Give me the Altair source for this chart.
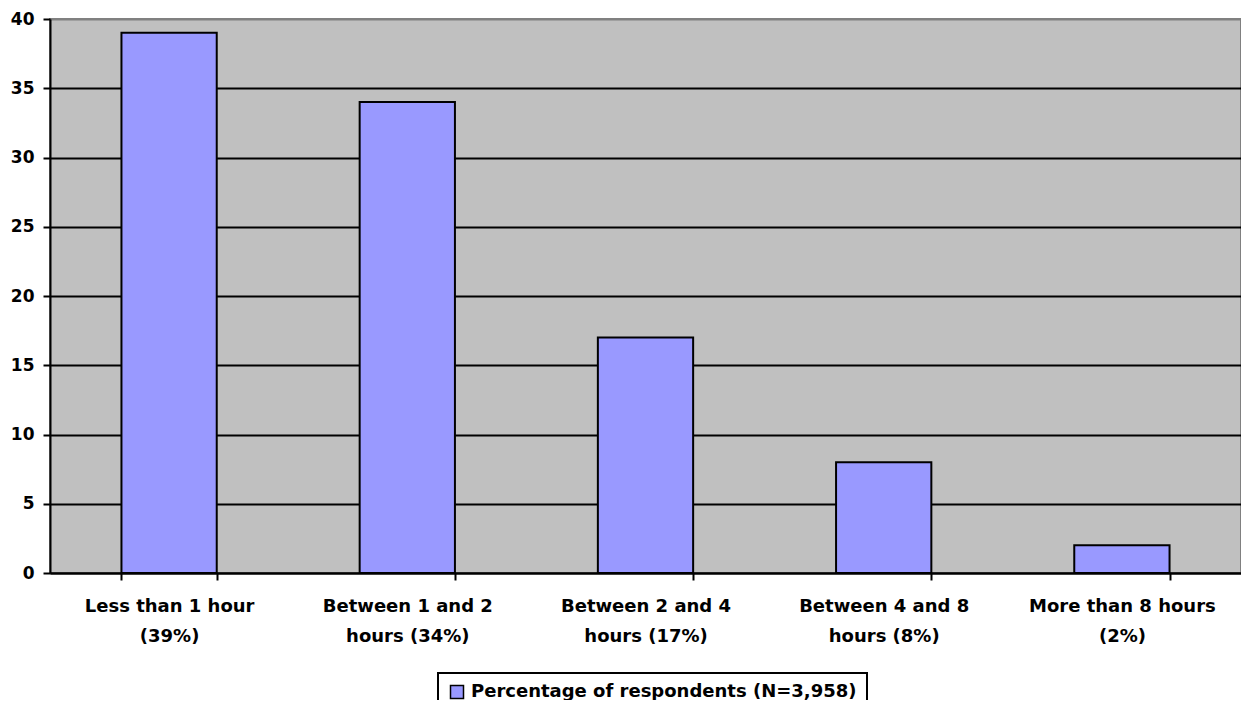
import altair as alt
import pandas as pd

categories = [
    "Less than 1 hour|(39%)",
    "Between 1 and 2|hours (34%)",
    "Between 2 and 4|hours (17%)",
    "Between 4 and 8|hours (8%)",
    "More than 8 hours|(2%)",
]
values = [39, 34, 17, 8, 2]
series_name = "Percentage of respondents (N=3,958)"
y_ticks = [0, 5, 10, 15, 20, 25, 30, 35, 40]

df = pd.DataFrame({"category": categories, "value": values, "series": [series_name] * len(values)})

FONT = "DejaVu Sans"

chart = alt.Chart(df).mark_bar(stroke="black", strokeWidth=2).encode(
    x=alt.X(
        "category:N", sort=None, title=None,
        scale=alt.Scale(paddingInner=0.6, paddingOuter=0.3),
        axis=alt.Axis(
            labelExpr="split(datum.label, '|')", labelAngle=0, tickBand="extent",
            domainColor="black", domainWidth=2, tickColor="black", tickWidth=2, tickSize=7,
            labelFont=FONT, labelFontSize=18, labelFontWeight="bold", labelColor="black",
            labelPadding=17, labelLineHeight=30, labelBaseline="top", grid=False,
            labelLimit=400,
        ),
    ),
    y=alt.Y(
        "value:Q", title=None, scale=alt.Scale(domain=[0, 40], nice=False),
        axis=alt.Axis(
            values=y_ticks, grid=True,
            gridColor=alt.condition("datum.value == 40", alt.value("#808080"), alt.value("black")),
            gridWidth=2, domainColor="black", domainWidth=2, tickColor="black", tickWidth=2,
            tickSize=7, labelFont=FONT, labelFontSize=17, labelFontWeight="bold",
            labelColor="black", labelPadding=9,
        ),
    ),
    color=alt.Color(
        "series:N", scale=alt.Scale(range=["#9999FF"]),
        legend=alt.Legend(
            title=None, orient="none", legendX=388, legendY=654, symbolType="square",
            symbolSize=169, symbolStrokeColor="black", symbolStrokeWidth=1.5,
            labelFont=FONT, labelFontSize=18, labelFontWeight="bold", labelColor="black",
            labelLimit=0, strokeColor="black", padding=10, fillColor="white", labelOffset=5,
        ),
    ),
).properties(
    width=1191, height=554,
    padding={"left": 42, "top": 11, "right": 0, "bottom": 127},
    autosize=alt.AutoSizeParams(type="none"),
    background="white",
).configure_view(
    fill="#C0C0C0", stroke="#808080", strokeWidth=2
).configure_legend(strokeWidth=2)

chart.save("out.html", embed_options={"renderer": "svg", "actions": False})
